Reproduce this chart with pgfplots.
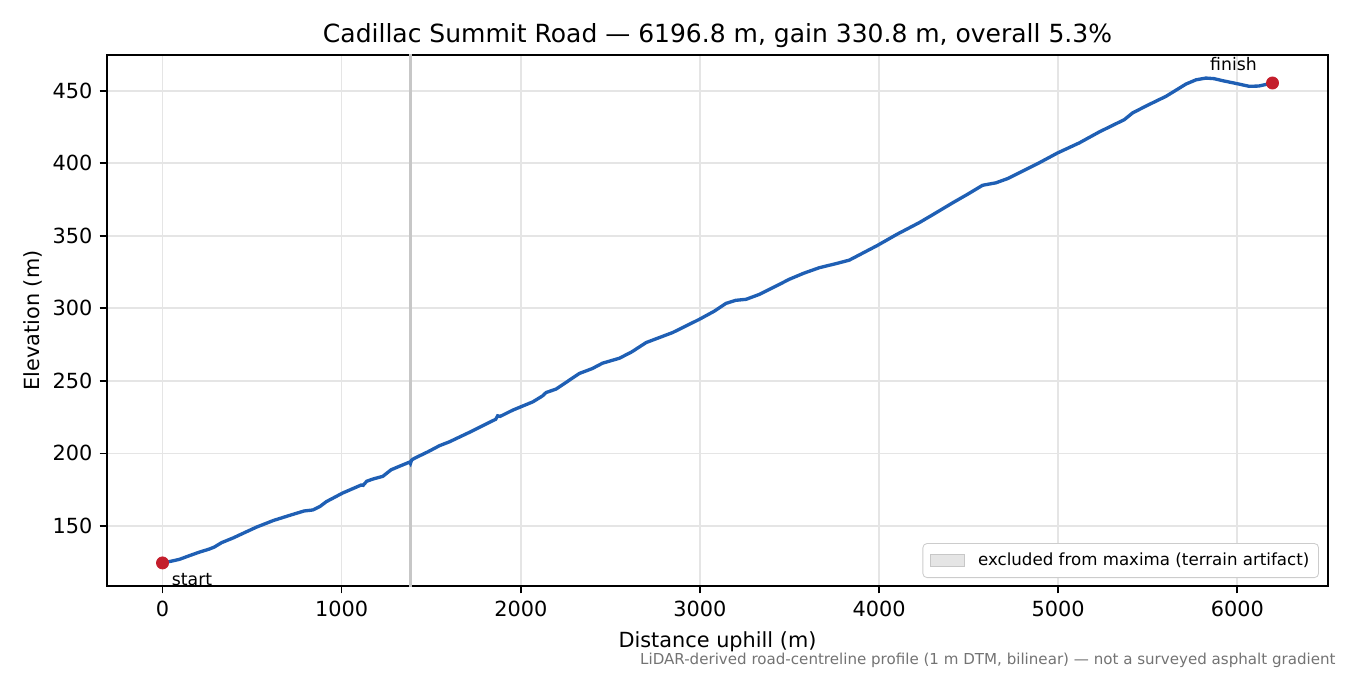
\documentclass[border=0pt]{standalone}
\usepackage{fontspec}
\setmainfont{DejaVu Sans}
\usepackage{pgfplots}
\pgfplotsset{compat=1.18}
\usepackage{pgfplotstable}

\definecolor{prof}{HTML}{1F5FB4}
\definecolor{endpt}{HTML}{C41E2C}
\newcommand{\fs}[1]{\fontsize{#1bp}{#1bp}\selectfont}

% elevation profile (distance m, elevation m)
\pgfplotstableread{
d e
0 124.5
60 126.0
95 127.0
150 129.5
207 132.0
260 134.0
290 135.5
330 138.5
392 141.6
460 145.5
523 149.1
620 153.8
718 157.6
790 160.3
839 161.0
880 163.5
914 166.7
1006 172.7
1109 178.2
1120 178.0
1140 180.8
1174 182.3
1230 184.2
1276 188.7
1330 191.5
1379 194.0
1384 193.0
1390 195.3
1406 196.6
1480 201.0
1546 205.3
1602 208.0
1713 214.5
1825 221.4
1860 223.5
1871 225.9
1885 225.5
1955 229.8
2067 235.5
2120 239.5
2142 242.0
2197 244.3
2327 255.1
2400 258.5
2421 259.9
2457 262.2
2551 265.6
2620 270.0
2700 276.4
2848 283.3
2997 292.4
3080 298.0
3146 303.4
3200 305.5
3258 306.2
3332 309.6
3420 315.0
3499 320.0
3580 324.2
3667 328.0
3760 330.8
3834 333.2
3992 343.4
4100 351.0
4224 359.0
4300 364.5
4411 372.7
4500 379.0
4578 384.8
4653 386.5
4720 389.5
4783 393.4
4890 400.0
4997 407.1
5118 414.0
5230 421.6
5369 430.0
5416 434.7
5500 440.0
5602 446.1
5714 454.6
5770 457.5
5825 458.7
5870 458.3
5918 456.9
6000 454.8
6067 453.0
6120 453.2
6196.8 455.3
}\profile

\begin{document}
\begin{tikzpicture}
\begin{axis}[
    scale only axis,
    width=586.08bp, height=254.88bp,
    xmin=-310, xmax=6506.6,
    ymin=108.6, ymax=474.6,
    xtick={0,1000,...,6000},
    ytick={150,200,...,450},
    xtick pos=bottom, ytick pos=left,
    /pgf/number format/1000 sep=,
    /pgf/number format/assume math mode=true,
    tick label style={font=\fs{10}},
    tick align=outside,
    major tick length=3.5bp,
    every tick/.style={black, line width=0.8bp},
    axis line style={black, line width=0.8bp},
    grid=major,
    major grid style={black!10, line width=0.8bp},
    xlabel={Distance uphill (m)},
    ylabel={Elevation (m)},
    label style={font=\fs{10}},
    xlabel style={yshift=-0.4bp},
    ylabel style={yshift=-2bp},
    title={Cadillac Summit Road — 6196.8 m, gain 330.8 m, overall 5.3\%},
    title style={font=\fs{12}, at={(0.5,1)}, anchor=south, inner sep=0pt, yshift=-2.6bp},
    clip=false,
    legend style={font=\fs{8}, at={(0.9926,0.015)}, anchor=south east,
        draw=black!20, rounded corners=2bp, inner sep=2bp,
        nodes={inner sep=2.4bp}},
    legend cell align=left,
    legend image code/.code={
        \path (-1.5bp,0) (20bp,0);
        \draw[#1, sharp corners] (0bp,-2.8bp) rectangle (16bp,2.8bp);},
]
\addplot[draw=black!22, fill=black!10, line width=0.6bp]
    coordinates {(1382,108.6) (1390,108.6) (1390,474.6) (1382,474.6)} -- cycle;
\addlegendentry{excluded from maxima (terrain artifact)}
\addplot[prof, line width=1.6bp, forget plot] table[x=d, y=e] {\profile};
\addplot[only marks, mark=*, mark size=2.9bp, color=endpt, forget plot]
    coordinates {(0,124.5) (6196.8,455.3)};
\node[font=\fs{8.3}, anchor=base west, inner sep=0pt] at ([shift={(4.3bp,-11bp)}]axis cs:0,124.5) {start};
\node[font=\fs{8.3}, anchor=base, inner sep=0pt] at ([shift={(-18.7bp,6.2bp)}]axis cs:6196.8,455.3) {finish};
\end{axis}
\node[font=\fs{7.24}, text=black!55, anchor=base east, inner sep=0pt]
    at ([shift={(3.84bp,-37.6bp)}]current axis.south east)
    {LiDAR-derived road-centreline profile (1 m DTM, bilinear) — not a surveyed asphalt gradient};
\pgfresetboundingbox
\path[use as bounding box] ([shift={(-51.36bp,-42.72bp)}]current axis.south west)
    rectangle ([shift={(10.56bp,26.4bp)}]current axis.north east);
\end{tikzpicture}
\end{document}
